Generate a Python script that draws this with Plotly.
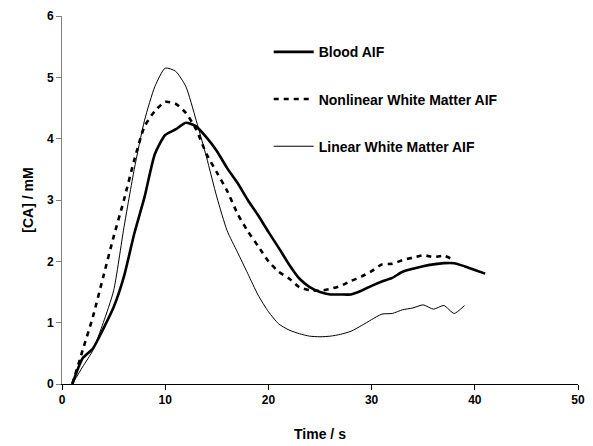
import plotly.graph_objects as go

# Time (s)
blood_t = list(range(1, 42))
blood_ca = [0, 0.42, 0.58, 0.9, 1.25, 1.75, 2.45, 3.05, 3.75, 4.06,
            4.15, 4.26, 4.2, 4.02, 3.8, 3.52, 3.28, 3.0, 2.75, 2.48,
            2.22, 1.95, 1.72, 1.58, 1.5, 1.46, 1.46, 1.46, 1.52, 1.6,
            1.67, 1.73, 1.83, 1.88, 1.92, 1.95, 1.97, 1.97, 1.92, 1.86,
            1.8]

nonlin_t = list(range(1, 39))
nonlin_ca = [0, 0.55, 1.1, 1.75, 2.4, 3.0, 3.65, 4.2, 4.45, 4.6,
             4.57, 4.42, 4.15, 3.75, 3.45, 3.15, 2.78, 2.49, 2.25, 2.0,
             1.83, 1.72, 1.58, 1.53, 1.52, 1.55, 1.6, 1.68, 1.75, 1.84,
             1.95, 1.96, 2.02, 2.06, 2.1, 2.07, 2.09, 2.02]

lin_t = list(range(1, 40))
lin_ca = [0, 0.28, 0.55, 1.0, 1.52, 2.55, 3.5, 4.3, 4.85, 5.15,
          5.1, 4.85, 4.3, 3.7, 3.05, 2.5, 2.15, 1.8, 1.45, 1.18,
          0.98, 0.88, 0.82, 0.78, 0.77, 0.78, 0.81, 0.86, 0.95, 1.05,
          1.14, 1.15, 1.21, 1.24, 1.29, 1.22, 1.28, 1.15, 1.28]

x_ticks = [0, 10, 20, 30, 40, 50]
y_ticks = [0, 1, 2, 3, 4, 5, 6]

font_family = "Liberation Sans, Arial, sans-serif"

fig = go.Figure()
fig.add_trace(go.Scatter(x=blood_t, y=blood_ca, mode="lines", name="Blood AIF",
                         legendgroup="a",
                         line=dict(color="black", width=2.6, shape="spline", smoothing=0.6)))
fig.add_trace(go.Scatter(x=nonlin_t, y=nonlin_ca, mode="lines", name="Nonlinear White Matter AIF",
                         legendgroup="b",
                         line=dict(color="black", width=2.6, dash="5px,5px", shape="spline", smoothing=0.6)))
fig.add_trace(go.Scatter(x=lin_t, y=lin_ca, mode="lines", name="Linear White Matter AIF",
                         legendgroup="c",
                         line=dict(color="black", width=1, shape="spline", smoothing=0.6)))

# page body has an 8px margin, so the figure is sized to fit the window
fig.update_layout(
    width=585, height=438,
    margin=dict(l=54, r=15, t=8, b=62),
    paper_bgcolor="white", plot_bgcolor="white",
    font=dict(family=font_family, color="black"),
    showlegend=True,
    legend=dict(x=0.4006, y=0.945, xanchor="left", yanchor="top",
                bgcolor="rgba(0,0,0,0)", tracegroupgap=26, itemwidth=40,
                font=dict(size=14, family=font_family, color="black", weight="bold")),
    xaxis=dict(range=[0, 50], tickvals=x_ticks, ticks="outside", ticklen=5,
               tickcolor="black", showline=True, linecolor="black", linewidth=1,
               showgrid=False, zeroline=False, automargin=False,
               ticklabeloverflow="allow",
               tickfont=dict(size=12, weight="bold"),
               title=dict(text="Time / s", font=dict(size=14, weight="bold"), standoff=22)),
    yaxis=dict(range=[0, 6], tickvals=y_ticks, ticks="outside", ticklen=5,
               tickcolor="#808080", showline=True, linecolor="#808080", linewidth=1,
               showgrid=False, zeroline=False, automargin=False,
               ticklabeloverflow="allow",
               tickfont=dict(size=12, weight="bold"),
               title=dict(text="[CA] / mM", font=dict(size=14, weight="bold"), standoff=10)),
)

fig.write_html("out.html")
